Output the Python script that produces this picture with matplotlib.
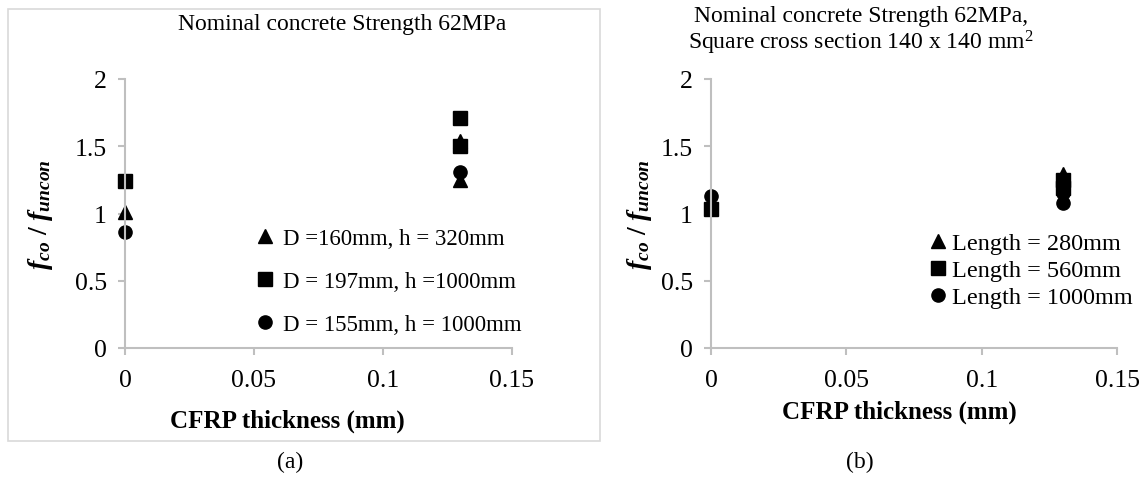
import matplotlib
matplotlib.use('Agg')
import matplotlib.pyplot as plt
from matplotlib.patches import Rectangle

plt.rcParams['font.family'] = ['Liberation Serif', 'DejaVu Serif']
plt.rcParams['mathtext.fontset'] = 'custom'
plt.rcParams['mathtext.rm'] = 'Liberation Serif'
plt.rcParams['mathtext.it'] = 'Liberation Serif:italic'
plt.rcParams['mathtext.bf'] = 'Liberation Serif:bold'
plt.rcParams['mathtext.bfit'] = 'Liberation Serif:italic:bold'

# (a) circular columns
a_tri_x = [0, 0.13, 0.13]
a_tri_y = [1.01, 1.54, 1.25]
a_sq_x = [0, 0.13, 0.13]
a_sq_y = [1.24, 1.71, 1.50]
a_ci_x = [0, 0.13]
a_ci_y = [0.86, 1.31]
a_labels = ['D =160mm, h = 320mm', 'D = 197mm, h =1000mm', 'D = 155mm, h = 1000mm']

# (b) square columns
b_tri_x = [0.13]
b_tri_y = [1.29]
b_sq_x = [0, 0.13, 0.13]
b_sq_y = [1.03, 1.25, 1.19]
b_ci_x = [0, 0.13, 0.13]
b_ci_y = [1.13, 1.08, 1.15]
b_labels = ['Length = 280mm', 'Length = 560mm', 'Length = 1000mm']

xticks = [0, 0.05, 0.1, 0.15]
yticks = [0, 0.5, 1, 1.5, 2]

grey = '#bfbfbf'
ylab = r'$\mathbfit{f}_{\mathbfit{co}}\ \mathbf{/}\ \mathbfit{f}_{\mathbfit{uncon}}$'

fig = plt.figure(figsize=(11.46, 4.89), dpi=100)
W, H = 1146, 489

fig.patches.append(Rectangle((8 / W, 1 - 442 / H), 592 / W, 432 / H,
                             transform=fig.transFigure, fill=False,
                             edgecolor='#d9d9d9', linewidth=1.2))


def setup(ax, ypad):
    ax.set_xlim(0, 0.15)
    ax.set_ylim(0, 2)
    ax.set_xticks(xticks)
    ax.set_xticklabels(['0', '0.05', '0.1', '0.15'])
    ax.set_yticks(yticks)
    ax.set_yticklabels(['0', '0.5', '1', '1.5', '2'])
    for s in ['top', 'right']:
        ax.spines[s].set_visible(False)
    for s in ['left', 'bottom']:
        ax.spines[s].set_color(grey)
        ax.spines[s].set_linewidth(1.5)
    ax.tick_params(colors=grey, labelcolor='black', labelsize=18.5,
                   length=5, width=1.5, direction='out')
    ax.tick_params(axis='x', pad=10)
    ax.tick_params(axis='y', pad=8)
    ax.set_xlabel('CFRP thickness (mm)', fontsize=18, fontweight='bold')
    ax.set_ylabel(ylab, fontsize=20, labelpad=ypad)


ax1 = fig.add_axes([125 / W, 1 - 349 / H, 387 / W, 269 / H])
setup(ax1, 14)
ax1.xaxis.set_label_coords(0.42, -0.225)
ax1.plot(a_tri_x, a_tri_y, '^', color='black', ms=9.5, clip_on=False, label=a_labels[0])
ax1.plot(a_sq_x, a_sq_y, 's', color='black', ms=9.5, clip_on=False, label=a_labels[1])
ax1.plot(a_ci_x, a_ci_y, 'o', color='black', ms=9.5, clip_on=False, label=a_labels[2])
ax1.legend(loc='upper left', bbox_to_anchor=(0.345, 0.445), frameon=False,
           fontsize=16.5, handlelength=0.6, handletextpad=0.45, labelspacing=0.95,
           borderpad=0, borderaxespad=0)
ax1.text(0.56, 1.205, 'Nominal concrete Strength 62MPa', transform=ax1.transAxes,
         ha='center', va='center', fontsize=17)

ax2 = fig.add_axes([711 / W, 1 - 349 / H, 406 / W, 269 / H])
setup(ax2, 5)
ax2.xaxis.set_label_coords(0.465, -0.19)
ax2.plot(b_tri_x, b_tri_y, '^', color='black', ms=9.5, clip_on=False, label=b_labels[0])
ax2.plot(b_sq_x, b_sq_y, 's', color='black', ms=9.5, clip_on=False, label=b_labels[1])
ax2.plot(b_ci_x, b_ci_y, 'o', color='black', ms=9.5, clip_on=False, label=b_labels[2])
ax2.legend(loc='upper left', bbox_to_anchor=(0.54, 0.43), frameon=False,
           fontsize=17.5, handlelength=0.6, handletextpad=0.3, labelspacing=0.2,
           borderpad=0, borderaxespad=0)
ax2.text(0.37, 1.18, 'Nominal concrete Strength 62MPa,\nSquare cross section 140 x 140 mm$^2$',
         transform=ax2.transAxes, ha='center', va='center', fontsize=17, linespacing=1.1)

fig.text(290 / W, 1 - 462 / H, '(a)', ha='center', va='center', fontsize=17)
fig.text(860 / W, 1 - 462 / H, '(b)', ha='center', va='center', fontsize=17)

fig.savefig('out.png', dpi=100)
